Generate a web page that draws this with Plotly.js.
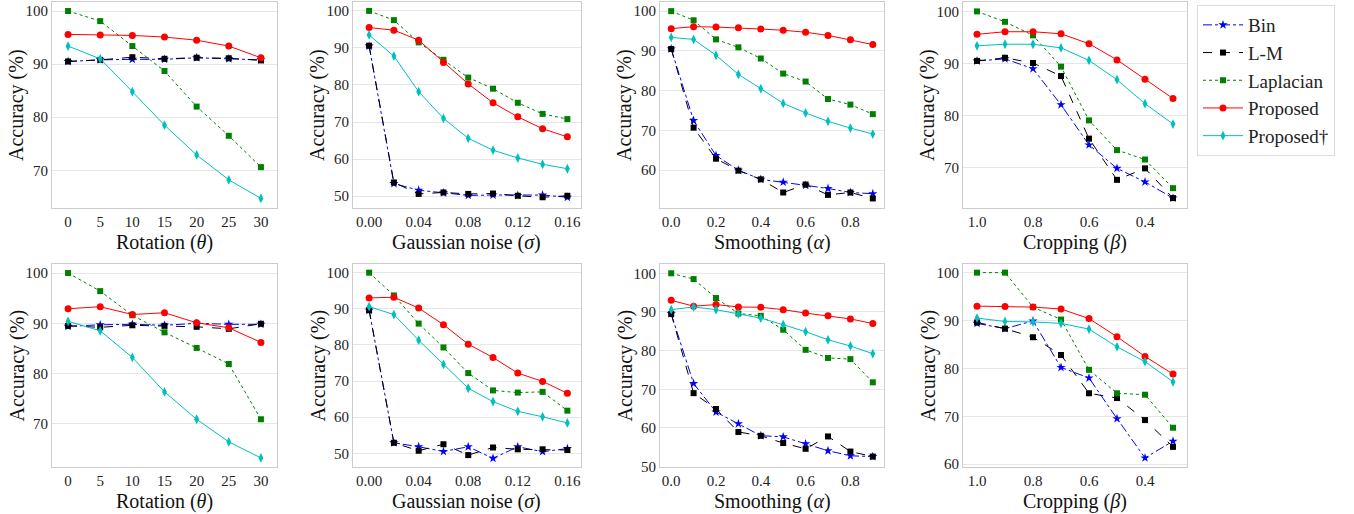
<!DOCTYPE html>
<html><head><meta charset="utf-8">
<script src="https://cdn.plot.ly/plotly-3.0.1.min.js"></script>
<style>
html,body{margin:0;padding:0;background:#fff;}
</style>
</head><body><div id="chart" style="width:1354px;height:514px"></div>
<script>
// ---- x values ----
const rotX = [0, 5, 10, 15, 20, 25, 30];
const gaussX = [0, 0.02, 0.04, 0.06, 0.08, 0.10, 0.12, 0.14, 0.16];
const smoothX = [0, 0.1, 0.2, 0.3, 0.4, 0.5, 0.6, 0.7, 0.8, 0.9];
const cropX = [1.0, 0.9, 0.8, 0.7, 0.6, 0.5, 0.4, 0.3];

const seriesNames = ["Bin", "L-M", "Laplacian", "Proposed", "Proposed†"];
const xTitles = ["Rotation (<i>θ</i>)", "Gaussian noise (<i>σ</i>)", "Smoothing (<i>α</i>)", "Cropping (<i>β</i>)"];
const yTitle = "Accuracy (%)";

// ---- top row ----
const rotTopBin = [90.5, 90.8, 90.9, 90.9, 91.2, 91.0, 90.8];
const rotTopLM = [90.5, 90.8, 91.3, 91.0, 91.2, 91.1, 90.7];
const rotTopLap = [100, 98.1, 93.4, 88.7, 82.0, 76.5, 70.6];
const rotTopProp = [95.6, 95.5, 95.4, 95.1, 94.5, 93.4, 91.2];
const rotTopPropD = [93.4, 91.0, 84.8, 78.5, 72.9, 68.2, 64.7];

const gaussTopBin = [90.5, 53.4, 51.6, 50.9, 50.2, 50.3, 50.2, 50.3, 49.7];
const gaussTopLM = [90.6, 53.7, 50.6, 51.0, 50.6, 50.7, 50.1, 49.7, 50.1];
const gaussTopLap = [100, 97.5, 91.5, 86.8, 82.0, 79.0, 75.2, 72.2, 70.8];
const gaussTopProp = [95.5, 94.8, 92.1, 86.1, 80.3, 75.2, 71.4, 68.2, 66.0];
const gaussTopPropD = [93.5, 87.8, 78.2, 71.0, 65.6, 62.4, 60.3, 58.6, 57.4];

const smoothTopBin = [90.5, 72.5, 63.7, 60.0, 57.7, 57.0, 56.2, 55.4, 54.4, 54.1];
const smoothTopLM = [90.5, 70.7, 62.9, 59.9, 57.7, 54.4, 56.4, 53.8, 54.4, 52.9];
const smoothTopLap = [100, 97.7, 92.9, 90.9, 88.1, 84.3, 82.3, 77.9, 76.5, 74.1];
const smoothTopProp = [95.6, 96.1, 96.0, 95.8, 95.5, 95.2, 94.7, 93.9, 92.8, 91.6];
const smoothTopPropD = [93.4, 92.9, 88.9, 84.1, 80.5, 76.8, 74.4, 72.3, 70.6, 69.1];

const cropTopBin = [90.5, 90.9, 89.0, 82.1, 74.4, 69.9, 67.3, 64.2];
const cropTopLM = [90.5, 91.1, 90.1, 87.6, 75.6, 67.7, 69.9, 64.2];
const cropTopLap = [100, 98.0, 95.4, 89.4, 79.1, 73.4, 71.6, 66.1];
const cropTopProp = [95.6, 96.1, 96.1, 95.7, 93.8, 90.7, 87.0, 83.3];
const cropTopPropD = [93.4, 93.7, 93.7, 93.0, 90.6, 86.9, 82.3, 78.4];

// ---- bottom row ----
const rotBotBin = [89.4, 89.7, 89.8, 89.6, 90.0, 89.8, 89.8];
const rotBotLM = [89.5, 89.2, 89.6, 89.5, 89.3, 88.9, 89.9];
const rotBotLap = [100, 96.4, 91.6, 88.2, 85.1, 81.9, 70.9];
const rotBotProp = [92.9, 93.3, 91.75, 92.1, 90.1, 89.1, 86.2];
const rotBotPropD = [90.4, 88.5, 83.2, 76.35, 70.9, 66.4, 63.2];

const gaussBotBin = [89.6, 52.9, 51.8, 50.5, 51.8, 48.6, 51.8, 50.45, 51.3];
const gaussBotLM = [89.6, 52.9, 50.7, 52.5, 49.5, 51.6, 51.1, 51.1, 50.9];
const gaussBotLap = [100, 93.7, 85.9, 79.3, 72.2, 67.4, 66.8, 67.0, 61.8];
const gaussBotProp = [93.0, 93.2, 90.2, 85.6, 80.2, 76.5, 72.2, 69.9, 66.6];
const gaussBotPropD = [90.6, 88.4, 81.3, 74.6, 68.0, 64.3, 61.6, 60.1, 58.4];

const smoothBotBin = [89.5, 71.5, 64.1, 61.1, 58.0, 57.7, 55.9, 54.1, 52.8, 52.6];
const smoothBotLM = [89.5, 69.0, 64.9, 58.96, 57.96, 56.1, 54.6, 57.8, 53.9, 52.6];
const smoothBotLap = [100, 98.5, 93.6, 89.6, 89.0, 85.4, 80.2, 78.1, 77.8, 71.8];
const smoothBotProp = [93.0, 91.5, 91.9, 91.3, 91.2, 90.6, 89.7, 89.0, 88.2, 87.0];
const smoothBotPropD = [90.6, 91.3, 90.6, 89.5, 88.4, 86.7, 84.9, 82.8, 81.2, 79.2];

const cropBotBin = [89.4, 88.3, 89.9, 80.2, 78.0, 69.5, 61.3, 64.8];
const cropBotLM = [89.6, 88.3, 86.5, 82.8, 74.8, 73.8, 69.2, 63.6];
const cropBotLap = [100, 100, 92.8, 90.2, 79.7, 74.8, 74.5, 67.6];
const cropBotProp = [93.0, 92.9, 92.8, 92.4, 90.4, 86.6, 82.5, 78.8];
const cropBotPropD = [90.5, 89.8, 89.7, 89.4, 88.2, 84.5, 81.4, 77.2];

// ---- styling ----
const styles = [
  {color: "#0000ff", dash: "dashdot", symbol: "star", size: 7},
  {color: "#000000", dash: "dash", symbol: "square", size: 6},
  {color: "#008000", dash: "dot", symbol: "square", size: 6},
  {color: "#ff0000", dash: "solid", symbol: "circle", size: 7},
  {color: "#00bfbf", dash: "solid", symbol: "diamond-tall", size: 7}
];

const panels = [
  {x: rotX, s: [rotTopBin, rotTopLM, rotTopLap, rotTopProp, rotTopPropD]},
  {x: gaussX, s: [gaussTopBin, gaussTopLM, gaussTopLap, gaussTopProp, gaussTopPropD]},
  {x: smoothX, s: [smoothTopBin, smoothTopLM, smoothTopLap, smoothTopProp, smoothTopPropD]},
  {x: cropX, s: [cropTopBin, cropTopLM, cropTopLap, cropTopProp, cropTopPropD]},
  {x: rotX, s: [rotBotBin, rotBotLM, rotBotLap, rotBotProp, rotBotPropD]},
  {x: gaussX, s: [gaussBotBin, gaussBotLM, gaussBotLap, gaussBotProp, gaussBotPropD]},
  {x: smoothX, s: [smoothBotBin, smoothBotLM, smoothBotLap, smoothBotProp, smoothBotPropD]},
  {x: cropX, s: [cropBotBin, cropBotLM, cropBotLap, cropBotProp, cropBotPropD]}
];

const W = 1354, H = 514;
const colPx = [[52, 277], [353, 581], [660, 884], [963, 1187]];
const rowPx = [[2, 208], [264, 467]];
const xTitleBottom = [255, 514];
const yTitleOffset = 35;
const xRanges = [[-2.5, 32.5], [-0.013, 0.171], [-0.05, 0.95], [1.05, 0.25]];
const yRanges = [[62.9, 101.7], [46.8, 102.4], [50.5, 102.3], [62.3, 101.8],
                 [61.4, 101.8], [46.2, 102.4], [49.9, 102.4], [59.4, 101.8]];
const xTickVals = [rotX, [0, 0.04, 0.08, 0.12, 0.16], [0, 0.2, 0.4, 0.6, 0.8], [1.0, 0.8, 0.6, 0.4]];
const xTickFmt = ["d", ".2f", ".1f", ".1f"];

const FONT = "Liberation Serif, Times New Roman, serif";
const traces = [];
const annotations = [];
const layout = {
  width: W, height: H,
  margin: {l: 0, r: 0, t: 0, b: 0},
  paper_bgcolor: "#ffffff", plot_bgcolor: "#ffffff",
  font: {family: FONT, size: 15, color: "#222"},
  showlegend: true,
  legend: {x: 1197 / W, y: 1 - 5 / H, xanchor: "left", yanchor: "top",
           bordercolor: "#dddddd", borderwidth: 1, bgcolor: "#ffffff",
           font: {family: FONT, size: 19, color: "#222"}, tracegroupgap: 0, itemwidth: 40},
  annotations: annotations
};

panels.forEach((p, i) => {
  const col = i % 4, row = Math.floor(i / 4);
  const n = i + 1;
  const xa = "xaxis" + (n === 1 ? "" : n), ya = "yaxis" + (n === 1 ? "" : n);
  const xr = "x" + (n === 1 ? "" : n), yr = "y" + (n === 1 ? "" : n);
  p.s.forEach((ys, k) => {
    const st = styles[k];
    traces.push({
      type: "scatter", mode: "lines+markers", x: p.x, y: ys, xaxis: xr, yaxis: yr,
      name: seriesNames[k], legendgroup: seriesNames[k], showlegend: i === 0,
      line: {color: st.color, dash: st.dash, width: 1},
      marker: {color: st.color, symbol: st.symbol, size: st.size}
    });
  });
  layout[xa] = {
    domain: [colPx[col][0] / W, colPx[col][1] / W],
    range: xRanges[col], autorange: false,
    tickvals: xTickVals[col], tickformat: xTickFmt[col],
    showgrid: false, zeroline: false, ticks: "",
    showline: true, mirror: true, linecolor: "#cccccc", linewidth: 1,
    tickfont: {family: FONT, size: 15, color: "#222"},
    anchor: yr
  };
  layout[ya] = {
    domain: [1 - rowPx[row][1] / H, 1 - rowPx[row][0] / H],
    range: yRanges[i], autorange: false, dtick: 10, tick0: 0,
    showgrid: true, gridcolor: "#e6e6e6", gridwidth: 1, zeroline: false, ticks: "",
    showline: true, mirror: true, linecolor: "#cccccc", linewidth: 1,
    tickfont: {family: FONT, size: 15, color: "#222"},
    anchor: xr
  };
  annotations.push({
    xref: "paper", yref: "paper", showarrow: false,
    x: (colPx[col][0] + colPx[col][1]) / 2 / W, y: 1 - xTitleBottom[row] / H,
    xanchor: "center", yanchor: "bottom", borderpad: 0,
    text: xTitles[col], font: {family: FONT, size: 20, color: "#111"}
  });
  annotations.push({
    xref: "paper", yref: "paper", showarrow: false, textangle: -90,
    x: (colPx[col][0] - yTitleOffset) / W, y: 1 - (rowPx[row][0] + rowPx[row][1]) / 2 / H,
    xanchor: "center", yanchor: "middle", borderpad: 0,
    text: yTitle, font: {family: FONT, size: 20, color: "#111"}
  });
});

Plotly.newPlot("chart", traces, layout, {displayModeBar: false});
</script>
</body></html>
